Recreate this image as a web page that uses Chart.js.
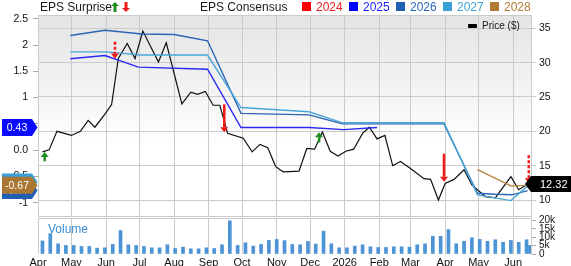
<!DOCTYPE html>
<html>
<head>
<meta charset="utf-8">
<script src="https://cdn.jsdelivr.net/npm/chart.js@4.4.1/dist/chart.umd.min.js"></script>
<style>
  body { margin: 0; background: #fff; font-family: "Liberation Sans", Arial, sans-serif; }
  #wrap { position: relative; width: 571px; height: 266px; overflow: hidden; }
  #wrap canvas { position: absolute; left: 0; top: 0; }
  .txt { position: absolute; white-space: nowrap; z-index: 2; }
  .sq { position: absolute; width: 9px; height: 9px; top: 2px; z-index: 2; }
</style>
</head>
<body>
<div id="wrap">
  <canvas id="price" width="571" height="266"></canvas>
  <canvas id="volume" width="571" height="266"></canvas>

  <div class="txt" style="left:40px;top:0;font-size:12px;line-height:14px;color:#1a1a1a">EPS Surprise</div>
  <svg class="txt" style="left:111px;top:2px" width="20" height="11">
    <path d="M4 0 L8 4 L5.5 4 L5.5 10 L2.5 10 L2.5 4 L0 4 Z" fill="#1e8c1e"/>
    <path transform="translate(11,0)" d="M2.5 0 L5.5 0 L5.5 6 L8 6 L4 10 L0 6 L2.5 6 Z" fill="#ee1c1c"/>
  </svg>
  <div class="txt" style="left:200px;top:0;font-size:12px;line-height:14px;color:#1a1a1a">EPS Consensus</div>
  <div class="sq" style="left:302px;background:#ff0000"></div>
  <div class="txt" style="left:316px;top:0;font-size:12px;line-height:14px;color:#ee2222">2024</div>
  <div class="sq" style="left:349px;background:#0000ff"></div>
  <div class="txt" style="left:363px;top:0;font-size:12px;line-height:14px;color:#1a1aff">2025</div>
  <div class="sq" style="left:396px;background:#1f5fb4"></div>
  <div class="txt" style="left:410px;top:0;font-size:12px;line-height:14px;color:#2a66b8">2026</div>
  <div class="sq" style="left:443px;background:#3aa0d8"></div>
  <div class="txt" style="left:457px;top:0;font-size:12px;line-height:14px;color:#40a4d8">2027</div>
  <div class="sq" style="left:490px;background:#b07a35"></div>
  <div class="txt" style="left:504px;top:0;font-size:12px;line-height:14px;color:#b07a35">2028</div>

  <div class="txt" style="left:468px;top:24px;width:9px;height:4px;background:#000;border-radius:1px"></div>
  <div class="txt" style="left:482px;top:20px;font-size:10px;line-height:12px;color:#1a1a1a">Price ($)</div>
  <div class="txt" style="left:48px;top:222px;font-size:12px;line-height:14px;color:#3d8fd6">Volume</div>
</div>

<script>
// x values are days since 2025-04-01
const monthDays = [0, 30, 61, 91, 122, 153, 183, 214, 244, 275, 306, 334, 365, 395, 426];
const monthLabels = ['Apr', 'May', 'Jun', 'Jul', 'Aug', 'Sep', 'Oct', 'Nov', 'Dec', '2026', 'Feb', 'Mar', 'Apr', 'May', 'Jun'];

const priceTicks = [10, 15, 20, 25, 30, 35];
const epsTicks = [-1, -0.5, 0, 0.5, 1, 1.5, 2, 2.5];
const epsTickLabels = ['-1', '-0.5', '0.0', '0.5', '1', '1.5', '2', '2.5'];
const volTicks = [0, 5, 10, 15, 20];
const volTickLabels = ['0', '5k', '10k', '15k', '20k'];

const priceDays = [4, 10, 17, 30, 38, 45, 51, 60, 66, 72, 80, 87, 94, 108, 115, 129, 137, 143, 150, 157,
  163, 170, 184, 192, 199, 206, 213, 217, 220, 234, 241, 248, 255, 262, 269, 276, 283, 291, 297, 304,
  311, 318, 325, 334, 346, 352, 359, 365, 373, 382, 389, 401, 410, 424, 431, 439];
const priceVals = [17.0, 17.3, 20.0, 19.4, 20.0, 21.6, 20.6, 22.5, 23.9, 30.6, 32.8, 30.6, 34.6, 30.1, 32.9, 24.0, 25.7, 25.4, 25.8, 23.8,
  23.8, 19.7, 19.0, 17.0, 18.1, 17.6, 14.9, 14.4, 14.1, 14.2, 17.5, 17.4, 19.9, 17.1, 16.4, 17.1, 17.4, 19.7, 20.6, 18.9,
  19.4, 15.0, 15.6, 14.6, 13.1, 13.0, 10.0, 12.4, 13.0, 14.4, 12.2, 10.5, 10.3, 13.4, 11.5, 12.32];

const cons2025Days = [29, 60, 90, 152, 182, 243, 274, 304];
const cons2025Vals = [1.74, 1.80, 1.58, 1.54, 0.43, 0.43, 0.39, 0.43];
const cons2026Days = [29, 60, 93, 122, 152, 182, 243, 273, 364, 394, 410, 425, 439];
const cons2026Vals = [2.18, 2.28, 2.21, 2.20, 2.08, 0.70, 0.67, 0.50, 0.50, -0.82, -0.84, -0.85, -0.77];
const cons2027Days = [29, 60, 93, 152, 182, 243, 273, 364, 394, 424, 439];
const cons2027Vals = [1.87, 1.87, 1.81, 1.81, 0.81, 0.73, 0.52, 0.52, -0.85, -0.96, -0.68];
const cons2028Days = [394, 424, 439];
const cons2028Vals = [-0.37, -0.68, -0.67];

const surpriseDays = [6, 69, 167, 252, 364, 440];
const surpriseAt = [17.0, 30.6, 19.85, 19.85, 12.66, 12.43];
const surpriseDir = ['up', 'down', 'down', 'up', 'down', 'down'];
const surpriseDashed = [false, true, false, false, false, true];
const surpriseSize = [0.33, 0.6, 1, 0.36, 1, 1];

const volDays = [4, 11, 18, 25, 32, 39, 46, 53, 60, 67, 74, 81, 88, 95, 102, 109, 116, 123, 130, 137,
  144, 151, 158, 165, 172, 179, 186, 193, 200, 207, 214, 221, 228, 235, 242, 249, 256, 263, 270, 277,
  284, 291, 298, 305, 312, 319, 326, 333, 340, 347, 354, 361, 368, 375, 382, 389, 396, 403, 410, 417,
  424, 431, 438, 441];
const volVals = [7.8, 12.2, 6.1, 5.1, 5.1, 4.5, 4.5, 3.5, 3.7, 5.7, 14.0, 5.5, 5.1, 4.5, 3.7, 3.7, 5.5, 3.3, 4.1, 3.1,
  3.1, 3.7, 3.3, 5.5, 19.8, 5.1, 6.7, 4.7, 5.7, 8.1, 8.7, 8.0, 5.7, 5.5, 7.5, 5.9, 13.6, 6.1, 3.7, 3.7,
  4.7, 5.5, 4.3, 3.9, 3.9, 4.3, 4.3, 4.1, 5.5, 6.1, 10.6, 10.6, 14.6, 6.1, 7.6, 9.7, 8.7, 7.6, 8.5, 7.0,
  8.1, 7.0, 8.5, 5.1];

const FONT = '"Liberation Sans", Arial, sans-serif';
const GRID = '#cbcbcb';
const pts = (xs, ys) => xs.map((x, i) => ({x, y: ys[i]}));

function xAxis(showLabels) {
  return {
    type: 'linear', min: 0, max: 442, offset: false,
    afterBuildTicks: s => { s.ticks = monthDays.map(v => ({value: v})); },
    grid: {color: GRID, drawTicks: false, offset: false},
    border: {display: false},
    ticks: {
      display: showLabels, autoSkip: false, maxRotation: 0, padding: 2,
      color: '#111', font: {family: FONT, size: 11},
      callback: (v, i) => monthLabels[i]
    },
    afterFit: s => { s.height = showLabels ? 12 : 0; }
  };
}

const panelBg = {
  id: 'panelBg',
  beforeDraw(chart) {
    const {ctx, chartArea: a} = chart;
    const g = ctx.createLinearGradient(0, a.top, 0, a.bottom);
    g.addColorStop(0, '#e4e4e4');
    g.addColorStop(0.65, '#ffffff');
    ctx.save();
    ctx.fillStyle = g;
    ctx.fillRect(a.left, a.top, a.right - a.left, a.bottom - a.top);
    ctx.restore();
  },
  afterDraw(chart) {
    const {ctx, chartArea: a} = chart;
    ctx.save();
    ctx.strokeStyle = GRID;
    ctx.lineWidth = 1;
    ctx.beginPath();
    ctx.moveTo(a.left, a.top + 0.5); ctx.lineTo(a.right, a.top + 0.5);
    ctx.moveTo(a.left, a.bottom - 0.5); ctx.lineTo(a.right, a.bottom - 0.5);
    ctx.stroke();
    ctx.restore();
  }
};

function drawArrow(ctx, x, tip, dir, len, color, dashed) {
  const s = dir === 'up' ? -1 : 1;   // +1: arrow points down
  const head = 5, hw = 4;
  ctx.save();
  ctx.strokeStyle = color; ctx.fillStyle = color; ctx.lineWidth = 2.5;
  if (dashed) ctx.setLineDash([3, 2]);
  ctx.beginPath();
  ctx.moveTo(x, tip - s * len);
  ctx.lineTo(x, tip - s * head);
  ctx.stroke();
  ctx.setLineDash([]);
  ctx.beginPath();
  ctx.moveTo(x - hw, tip - s * head);
  ctx.lineTo(x + hw, tip - s * head);
  ctx.lineTo(x, tip);
  ctx.closePath();
  ctx.fill();
  ctx.restore();
}

function leftTag(ctx, y, text, color) {
  const h = 17;
  ctx.beginPath();
  ctx.moveTo(2, y - h / 2); ctx.lineTo(32, y - h / 2); ctx.lineTo(37.5, y);
  ctx.lineTo(32, y + h / 2); ctx.lineTo(2, y + h / 2); ctx.closePath();
  ctx.fillStyle = color; ctx.fill();
  ctx.fillStyle = '#fff';
  ctx.font = '10.5px ' + FONT;
  ctx.textAlign = 'center'; ctx.textBaseline = 'middle';
  ctx.fillText(text, 17, y + 0.5);
}

const markers = {
  id: 'markers',
  afterDatasetsDraw(chart) {
    const {ctx} = chart;
    const xs = chart.scales.x, ys = chart.scales.y;
    surpriseDays.forEach((d, i) => {
      const x = xs.getPixelForValue(d);
      const tip = ys.getPixelForValue(surpriseAt[i]);
      const up = surpriseDir[i] === 'up';
      drawArrow(ctx, x, tip, surpriseDir[i], 28 * surpriseSize[i], up ? '#1e8c1e' : '#f01818', surpriseDashed[i]);
    });
  },
  afterDraw(chart) {
    const {ctx} = chart;
    const ye = chart.scales.yEps, yp = chart.scales.y;
    ctx.save();
    // consensus tags on the left axis (2027 nudged up as in the source chart)
    leftTag(ctx, ye.getPixelForValue(cons2026Vals.at(-1)), cons2026Vals.at(-1).toFixed(2), '#1f5fb4');
    leftTag(ctx, ye.getPixelForValue(cons2027Vals.at(-1)) - 4, cons2027Vals.at(-1).toFixed(2), '#3aa0d8');
    leftTag(ctx, ye.getPixelForValue(cons2028Vals.at(-1)), cons2028Vals.at(-1).toFixed(2), '#ab7632');
    leftTag(ctx, ye.getPixelForValue(cons2025Vals.at(-1)), cons2025Vals.at(-1).toFixed(2), '#0a0aff');
    // last price tag
    const last = priceVals.at(-1);
    const y = yp.getPixelForValue(last), h = 16;
    ctx.beginPath();
    ctx.moveTo(571, y - h / 2); ctx.lineTo(531, y - h / 2); ctx.lineTo(525, y);
    ctx.lineTo(531, y + h / 2); ctx.lineTo(571, y + h / 2); ctx.closePath();
    ctx.fillStyle = '#000'; ctx.fill();
    ctx.fillStyle = '#fff';
    ctx.font = '11px ' + FONT;
    ctx.textAlign = 'left'; ctx.textBaseline = 'middle';
    ctx.fillText(last.toFixed(2), 540, y + 0.5);
    ctx.restore();
  }
};

const line = (label, xs, ys, color, axis, width) => ({
  label, data: pts(xs, ys), borderColor: color, borderWidth: width, yAxisID: axis,
  pointRadius: 0, tension: 0, fill: false
});

new Chart(document.getElementById('price'), {
  type: 'line',
  data: {
    datasets: [
      line('2025', cons2025Days, cons2025Vals, '#2a2af2', 'yEps', 1.4),
      line('2027', cons2027Days, cons2027Vals, '#4aa6d8', 'yEps', 1.4),
      line('2026', cons2026Days, cons2026Vals, '#2b64b4', 'yEps', 1.4),
      line('2028', cons2028Days, cons2028Vals, '#b8843c', 'yEps', 1.4),
      line('Price ($)', priceDays, priceVals, '#111111', 'y', 1.2)
    ]
  },
  options: {
    responsive: false, animation: false,
    layout: {autoPadding: false, padding: {top: 15, bottom: 49, left: 0, right: 0}},
    plugins: {legend: {display: false}, tooltip: {enabled: false}},
    scales: {
      x: xAxis(false),
      y: {
        position: 'right', min: 7.525, max: 36.94,
        afterBuildTicks: s => { s.ticks = priceTicks.map(v => ({value: v})); },
        grid: {color: GRID, tickLength: 5},
        border: {display: true, color: GRID},
        ticks: {color: '#111', font: {family: FONT, size: 10.5}, padding: 3},
        afterFit: s => { s.width = 40; }
      },
      yEps: {
        position: 'left', min: -1.272, max: 2.571,
        afterBuildTicks: s => { s.ticks = epsTicks.map(v => ({value: v})); },
        grid: {drawOnChartArea: false, tickLength: 5, color: '#aaa'},
        border: {display: false},
        ticks: {color: '#111', font: {family: FONT, size: 10.5}, padding: 5,
          callback: (v, i) => epsTickLabels[i]},
        afterFit: s => { s.width = 38; }
      }
    }
  },
  plugins: [panelBg, markers]
});

new Chart(document.getElementById('volume'), {
  type: 'bar',
  data: {
    datasets: [{
      label: 'Volume', data: pts(volDays, volVals),
      backgroundColor: '#4d94d6', barThickness: 3
    }]
  },
  options: {
    responsive: false, animation: false,
    layout: {autoPadding: false, padding: {top: 218, bottom: 0, left: 38, right: 0}},
    plugins: {legend: {display: false}, tooltip: {enabled: false}},
    scales: {
      x: xAxis(true),
      y: {
        position: 'right', min: 0, max: 21.5,
        afterBuildTicks: s => { s.ticks = volTicks.map(v => ({value: v})); },
        grid: {drawOnChartArea: false, tickLength: 5, color: '#aaa'},
        border: {display: true, color: GRID},
        ticks: {color: '#111', font: {family: FONT, size: 10}, padding: 3, autoSkip: false,
          callback: (v, i) => volTickLabels[i]},
        afterFit: s => { s.width = 40; }
      }
    }
  },
  plugins: [{
    id: 'volTop',
    afterDraw(chart) {
      const {ctx, chartArea: a} = chart;
      ctx.save();
      ctx.strokeStyle = GRID;
      ctx.beginPath();
      ctx.moveTo(a.left, a.top + 0.5); ctx.lineTo(a.right, a.top + 0.5);
      ctx.stroke();
      ctx.restore();
    }
  }]
});
</script>
</body>
</html>
